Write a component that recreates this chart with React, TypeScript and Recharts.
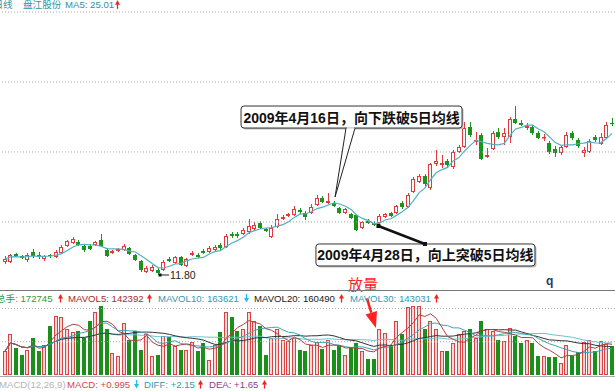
import React from 'react';
import { ComposedChart, Bar, Line, XAxis, YAxis, ReferenceLine, ReferenceDot } from 'recharts';

// ---------- data ----------
const opens = [
  13.00, 13.00, 13.74, 13.55, 13.19, 13.92, 13.65, 13.28, 13.65, 13.46,
  13.83, 14.48, 14.75, 14.85, 14.48, 14.48, 14.57, 15.03, 14.11, 13.83,
  14.02, 14.11, 14.29, 13.65, 13.09, 12.08, 12.17, 12.26, 12.26, 13.28,
  12.91, 13.46, 12.63, 13.65, 13.65, 14.02, 13.92, 14.11, 14.57, 14.39,
  15.59, 15.59, 15.59, 15.77, 16.05, 16.60, 16.05, 15.31, 16.23, 16.97,
  17.25, 17.34, 17.80, 17.52, 17.52, 18.26, 18.91, 18.45, 18.45, 17.99,
  17.52, 17.43, 17.34, 16.14, 16.79, 16.60, 16.60, 17.16, 17.52, 17.52,
  18.45, 18.08, 19.46, 20.39, 20.94, 19.83, 22.05, 21.96, 22.33, 21.77,
  23.16, 23.62, 25.47, 24.08, 24.73, 22.70, 23.43, 25.00, 24.54, 24.54,
  26.21, 25.84, 25.37, 25.47, 24.91, 24.45, 23.99, 23.43, 23.07, 23.62,
  24.91, 24.27, 23.07, 23.16, 24.54, 23.90, 24.45, 25.84,
];
const closes = [
  13.28, 13.65, 13.55, 13.37, 13.65, 13.55, 13.46, 13.55, 13.55, 13.92,
  14.39, 14.94, 15.12, 14.57, 14.11, 14.20, 14.85, 14.48, 13.55, 14.02,
  14.20, 14.48, 13.74, 13.19, 12.26, 12.45, 12.54, 11.98, 13.00, 13.09,
  13.46, 12.72, 13.28, 13.83, 13.46, 13.83, 14.29, 14.39, 14.29, 15.40,
  15.40, 15.40, 15.96, 16.32, 16.42, 16.14, 15.86, 16.14, 16.97, 17.16,
  17.43, 17.89, 17.62, 17.16, 18.08, 18.91, 18.54, 18.63, 18.17, 17.52,
  17.89, 17.06, 15.96, 16.69, 16.60, 16.42, 17.25, 17.43, 17.25, 18.17,
  18.08, 19.19, 20.66, 20.94, 20.20, 22.05, 22.33, 22.14, 21.96, 23.16,
  23.62, 25.37, 24.73, 24.27, 22.51, 22.88, 24.91, 24.54, 24.91, 26.21,
  25.84, 25.65, 25.56, 24.91, 24.45, 24.54, 23.16, 23.07, 23.62, 24.73,
  24.45, 23.71, 23.34, 24.17, 24.27, 24.54, 25.65, 25.74,
];
const highs = [
  13.55, 13.74, 13.83, 13.65, 13.83, 14.20, 13.92, 13.65, 13.74, 14.11,
  14.57, 15.03, 15.31, 15.03, 14.66, 14.66, 14.94, 15.59, 14.29, 14.11,
  14.29, 14.66, 14.39, 13.74, 13.19, 12.63, 12.72, 12.45, 13.19, 13.46,
  13.55, 13.55, 13.37, 14.02, 13.83, 14.20, 14.48, 14.57, 14.75, 15.59,
  15.77, 15.77, 16.14, 16.97, 16.69, 16.79, 16.14, 16.42, 17.43, 17.34,
  17.52, 18.17, 17.99, 17.71, 18.36, 19.19, 19.09, 19.37, 18.63, 18.08,
  17.99, 17.52, 17.43, 16.79, 16.97, 16.79, 17.43, 17.52, 17.62, 18.26,
  18.63, 19.37, 20.85, 21.13, 21.13, 22.14, 23.34, 22.88, 22.51, 23.34,
  23.80, 25.93, 25.93, 25.00, 24.91, 23.53, 25.10, 25.37, 25.37, 26.39,
  27.41, 26.11, 25.84, 25.65, 25.10, 24.82, 24.17, 23.71, 23.80, 25.00,
  25.10, 24.45, 23.62, 24.36, 24.73, 24.91, 25.93, 26.30,
];
const lows = [
  12.82, 12.91, 13.46, 13.28, 13.00, 13.37, 13.28, 13.09, 13.37, 13.37,
  13.74, 14.39, 14.66, 14.48, 13.92, 14.11, 14.48, 14.39, 13.46, 13.74,
  13.92, 14.02, 13.65, 13.09, 12.08, 11.98, 12.08, 11.80, 12.17, 13.00,
  12.82, 12.63, 12.54, 13.55, 13.37, 13.74, 13.83, 14.02, 14.11, 14.29,
  15.22, 15.22, 15.49, 15.59, 15.86, 16.05, 15.77, 15.22, 16.14, 16.88,
  17.16, 17.25, 17.43, 16.88, 17.43, 18.17, 18.45, 18.36, 18.08, 17.43,
  17.43, 16.97, 15.86, 16.05, 16.51, 16.32, 16.51, 17.06, 17.16, 17.43,
  17.89, 17.99, 19.37, 20.30, 20.02, 19.65, 21.87, 21.68, 21.77, 21.59,
  23.07, 23.53, 24.54, 23.80, 22.42, 22.60, 23.34, 24.36, 23.80, 23.99,
  25.74, 25.56, 25.19, 24.73, 24.36, 24.17, 22.97, 22.70, 22.88, 23.53,
  24.27, 23.53, 22.70, 23.07, 24.08, 23.80, 24.36, 25.56,
];
const volumes = [
  142000, 244000, 163000, 122000, 152000, 224000, 146000, 183000, 295000, 356000,
  346000, 274000, 256000, 264000, 224000, 325000, 376000, 417000, 274000, 132000,
  112000, 315000, 213000, 264000, 152000, 244000, 112000, 122000, 234000, 230000,
  173000, 148000, 152000, 197000, 142000, 193000, 92000, 183000, 258000, 376000,
  346000, 264000, 274000, 376000, 325000, 295000, 122000, 224000, 274000, 213000,
  203000, 224000, 148000, 142000, 183000, 197000, 157000, 213000, 148000, 173000,
  122000, 167000, 193000, 142000, 96000, 98000, 274000, 250000, 183000, 325000,
  244000, 407000, 417000, 417000, 274000, 325000, 274000, 142000, 142000, 193000,
  244000, 264000, 274000, 224000, 325000, 279000, 264000, 213000, 203000, 285000,
  234000, 193000, 213000, 193000, 116000, 112000, 108000, 108000, 71000, 183000,
  116000, 136000, 197000, 213000, 142000, 203000, 189000, 172745,
];
const priceGridLevels = [16.70, 23.16, 29.62, 36.08];
const volumeGridLevels = [200000, 400000];
const priceDomain: [number, number] = [10.415, 36.08];
const volumeDomain: [number, number] = [0, 421000];
const breakDownIndex = 58; // 2009年4月16日
const breakUpIndex = 66; // 2009年4月28日

// ---------- derived ----------
const days = closes.map((_, i) => `D${i + 1}`);
function movingAverage(values: number[], n: number) {
  return values.map((_, i) => {
    const s = values.slice(Math.max(0, i - n + 1), i + 1);
    return s.reduce((a, b) => a + b, 0) / s.length;
  });
}
const ma5 = movingAverage(closes, 5);
const mavol5 = movingAverage(volumes, 5);
const mavol10 = movingAverage(volumes, 10);
const mavol20 = movingAverage(volumes, 20);
const mavol30 = movingAverage(volumes, 30);
const lowestValue = Math.min(...lows);
const lowestIndex = lows.indexOf(lowestValue);

const data = days.map((day, i) => ({
  day,
  open: opens[i],
  high: highs[i],
  low: lows[i],
  close: closes[i],
  range: [lows[i], highs[i]],
  vol: volumes[i],
  ma5: ma5[i],
  mavol5: mavol5[i],
  mavol10: mavol10[i],
  mavol20: mavol20[i],
  mavol30: mavol30[i],
}));

// ---------- styles ----------
const RED = '#e3393c';
const GREEN = '#1b941b';
const MA_COLOR = '#52b1c2';
const LATIN = "'Liberation Sans', 'Noto Sans CJK SC', sans-serif";
const CJK = "'Noto Sans CJK SC', sans-serif";

function CandleShape(props: any) {
  const { x, y, width, height, payload } = props;
  if (!payload) return null;
  const top = Math.min(y, y + height);
  const h = Math.abs(height);
  const { open, close, high, low } = payload;
  const span = high - low;
  const toY = (v: number) => (span > 0 ? top + ((high - v) / span) * h : top);
  const n = Math.round(x + width / 2 - 0.5);
  const cx = n + 0.5;
  const yO = toY(open);
  const yC = toY(close);
  const bTop = Math.round(Math.min(yO, yC));
  const bBot = Math.max(bTop + 1, Math.round(Math.max(yO, yC)));
  const yHi = Math.round(top);
  const yLo = Math.round(top + h);
  if (close >= open) {
    return (
      <g>
        <line x1={cx} x2={cx} y1={yHi} y2={bTop} stroke={RED} strokeWidth={1} />
        <line x1={cx} x2={cx} y1={bBot} y2={yLo} stroke={RED} strokeWidth={1} />
        <rect x={n - 1.5} y={bTop + 0.5} width={3} height={Math.max(0.5, bBot - bTop - 1)} fill="#fff" stroke={RED} strokeWidth={1} />
      </g>
    );
  }
  return (
    <g>
      <line x1={cx} x2={cx} y1={yHi} y2={yLo} stroke={GREEN} strokeWidth={1} />
      <rect x={n - 2} y={bTop} width={4} height={bBot - bTop} fill={GREEN} />
    </g>
  );
}

function VolumeShape(props: any) {
  const { x, y, width, height, payload } = props;
  if (!payload) return null;
  const top = Math.round(Math.min(y, y + height));
  const bottom = Math.round(Math.max(y, y + height));
  const n = Math.round(x + width / 2 - 0.5);
  if (payload.close >= payload.open) {
    return <rect x={n - 1.5} y={top + 0.5} width={3} height={Math.max(0.5, bottom - top - 1)} fill="#fad6d6" stroke="#d84444" strokeWidth={1} />;
  }
  return <rect x={n - 2} y={top} width={4} height={bottom - top} fill="#1a901a" />;
}

function LowLabel(props: any) {
  const { cx, cy } = props;
  return (
    <g>
      <rect x={cx + 0.5} y={cy - 1.5} width={3} height={3} fill="#111" />
      <line x1={cx + 3} y1={cy} x2={cx + 11} y2={cy} stroke="#222" strokeWidth={1} />
      <text x={cx + 12} y={cy + 3.8} fontSize={10.5} fill="#222" fontFamily={LATIN}>{lowestValue.toFixed(2)}</text>
    </g>
  );
}

function CalloutDown(props: any) {
  const { cx, cy } = props;
  const bx = cx - 93;
  const by = cy - 95;
  const bw = 221;
  const bh = 22;
  return (
    <g>
      <rect x={bx + 1.5} y={by + 1.5} width={bw} height={bh} rx={3} fill="#bbb" />
      <rect x={bx} y={by} width={bw} height={bh} rx={3} fill="#fff" stroke="#333" strokeWidth={1} />
      <polygon points={`${cx + 12},${by + bh} ${cx + 1},${cy - 4} ${cx + 21},${by + bh}`} fill="#fff" stroke="#222" strokeWidth={1} />
      <line x1={cx + 12.6} y1={by + bh} x2={cx + 20.4} y2={by + bh} stroke="#fff" strokeWidth={1.5} />
      <text x={bx + bw / 2} y={by + 16.5} textAnchor="middle" fontSize={14} fontWeight="bold" fill="#111" fontFamily={LATIN}>
        2009年4月16日，向下跌破5日均线
      </text>
    </g>
  );
}

function CalloutUp(props: any) {
  const { cx, cy } = props;
  const bx = cx - 63.5;
  const by = cy + 20;
  const bw = 219;
  const bh = 22;
  return (
    <g>
      <rect x={bx + 1.5} y={by + 1.5} width={bw} height={bh} rx={3} fill="#bbb" />
      <rect x={bx} y={by} width={bw} height={bh} rx={3} fill="#fff" stroke="#333" strokeWidth={1} />
      <line x1={cx - 1} y1={cy + 2} x2={cx + 45.5} y2={by} stroke="#111" strokeWidth={2.5} />
      <rect x={cx - 3} y={cy} width={4} height={4} fill="#111" />
      <rect x={cx + 43.5} y={by - 2} width={4} height={4} fill="#111" />
      <text x={bx + bw / 2} y={by + 16.5} textAnchor="middle" fontSize={14} fontWeight="bold" fill="#111" fontFamily={LATIN}>
        2009年4月28日，向上突破5日均线
      </text>
    </g>
  );
}

function SurgeArrow(props: any) {
  const { cx, cy } = props;
  const tipX = cx - 3.5;
  const tipY = cy - 1.5;
  const tailX = cx - 12.5;
  const tailY = cy - 31;
  const dx = tailX - tipX;
  const dy = tailY - tipY;
  const len = Math.sqrt(dx * dx + dy * dy);
  const ux = dx / len;
  const uy = dy / len;
  const px = -uy;
  const py = ux;
  const bcx = tipX + ux * 16;
  const bcy = tipY + uy * 16;
  return (
    <g>
      <line x1={bcx} y1={bcy} x2={tailX} y2={tailY} stroke="#f22" strokeWidth={2.5} />
      <polygon points={`${tipX},${tipY} ${bcx + px * 6},${bcy + py * 6} ${bcx - px * 6},${bcy - py * 6}`} fill="#f22" />
      <text x={cx - 16.5} y={cy - 39.5} textAnchor="middle" fontSize={15} fill="#ff2020" fontFamily={CJK}>放量</text>
    </g>
  );
}

type Run = { x: number; t: string; c: string; arrow?: 'up' | 'down' };
const UP_RED = '#ee2222';
const DOWN_CYAN = '#20bde8';
const topRuns: Run[] = [
  { x: -6.5, t: '日线', c: '#2a93a6' },
  { x: 23, t: '盘江股份', c: '#2a93a6' },
  { x: 65, t: 'MA5: 25.01', c: '#2a93a6' },
  { x: 115, t: '', c: UP_RED, arrow: 'up' },
];
const volRuns: Run[] = [
  { x: -4, t: '总手: 172745', c: '#2f9a40' },
  { x: 58, t: '', c: UP_RED, arrow: 'up' },
  { x: 68, t: 'MAVOL5: 142392', c: '#a52a2a' },
  { x: 147, t: '', c: UP_RED, arrow: 'up' },
  { x: 158, t: 'MAVOL10: 163621', c: '#2d9db3' },
  { x: 244, t: '', c: DOWN_CYAN, arrow: 'down' },
  { x: 254, t: 'MAVOL20: 160490', c: '#202020' },
  { x: 339, t: '', c: UP_RED, arrow: 'up' },
  { x: 350, t: 'MAVOL30: 143031', c: '#2d9db3' },
  { x: 434, t: '', c: UP_RED, arrow: 'up' },
];
const macdRuns: Run[] = [
  { x: -1, t: 'MACD(12,26,9)', c: '#b4b4b4' },
  { x: 67, t: 'MACD: +0.995', c: '#d64545' },
  { x: 134, t: '', c: DOWN_CYAN, arrow: 'down' },
  { x: 144, t: 'DIFF: +2.15', c: '#2d9db3' },
  { x: 198, t: '', c: UP_RED, arrow: 'up' },
  { x: 209, t: 'DEA: +1.65', c: '#8b3a96' },
  { x: 262, t: '', c: UP_RED, arrow: 'up' },
];

function ArrowGlyph({ x, y, dir, color }: { x: number; y: number; dir: 'up' | 'down'; color: string }) {
  const mx = x + 2.5;
  if (dir === 'up') {
    return (
      <g>
        <line x1={mx} x2={mx} y1={y - 4} y2={y + 0.5} stroke={color} strokeWidth={1.3} />
        <polygon points={`${x},${y - 3.5} ${x + 5},${y - 3.5} ${mx},${y - 8}`} fill={color} />
      </g>
    );
  }
  return (
    <g>
      <line x1={mx} x2={mx} y1={y - 8} y2={y - 3} stroke={color} strokeWidth={1.3} />
      <polygon points={`${x},${y - 4} ${x + 5},${y - 4} ${mx},${y + 0.5}`} fill={color} />
    </g>
  );
}

function Runs({ runs, y }: { runs: Run[]; y: number }) {
  return (
    <g>
      {runs.map((r, i) =>
        r.arrow ? (
          <ArrowGlyph key={i} x={r.x} y={y} dir={r.arrow} color={r.c} />
        ) : (
          <text key={i} x={r.x} y={y} fontSize={9.6} fill={r.c} fontFamily={LATIN}>{r.t}</text>
        )
      )}
    </g>
  );
}

export default function App() {
  return (
    <div style={{ position: 'absolute', left: 0, top: 0, width: 615, height: 391, background: '#fff', overflow: 'hidden' }}>
      <div style={{ position: 'absolute', left: 0, top: 0 }}>
        <ComposedChart width={615} height={290} data={data} margin={{ top: 12, right: 0, bottom: 0, left: 2 }}>
          <XAxis dataKey="day" type="category" hide />
          <YAxis domain={priceDomain} allowDataOverflow hide />
          {priceGridLevels.map((v) => (
            <ReferenceLine key={v} y={v} stroke="#a8a8a8" strokeDasharray="1 2" ifOverflow="extendDomain" />
          ))}
          <Bar dataKey="range" shape={<CandleShape />} isAnimationActive={false} />
          <Line dataKey="ma5" type="linear" stroke={MA_COLOR} strokeWidth={1.2} dot={false} activeDot={false} isAnimationActive={false} />
          <ReferenceDot x={days[lowestIndex]} y={lowestValue} r={0} shape={<LowLabel />} />
          <ReferenceDot x={days[breakDownIndex]} y={highs[breakDownIndex]} r={0} shape={<CalloutDown />} />
          <ReferenceDot x={days[breakUpIndex]} y={lows[breakUpIndex]} r={0} shape={<CalloutUp />} />
        </ComposedChart>
      </div>
      <div style={{ position: 'absolute', left: 0, top: 270 }}>
        <ComposedChart width={615} height={106} data={data} margin={{ top: 35, right: 0, bottom: 1, left: 2 }}>
          <XAxis dataKey="day" type="category" hide />
          <YAxis domain={volumeDomain} allowDataOverflow hide />
          {volumeGridLevels.map((v) => (
            <ReferenceLine key={v} y={v} stroke="#a8a8a8" strokeDasharray="1 2" />
          ))}
          <Bar dataKey="vol" shape={<VolumeShape />} isAnimationActive={false} />
          <Line dataKey="mavol30" type="linear" stroke="#6cc0d0" strokeWidth={1} dot={false} activeDot={false} isAnimationActive={false} />
          <Line dataKey="mavol20" type="linear" stroke="#333333" strokeWidth={1} dot={false} activeDot={false} isAnimationActive={false} />
          <Line dataKey="mavol10" type="linear" stroke="#3aa3b5" strokeWidth={1} dot={false} activeDot={false} isAnimationActive={false} />
          <Line dataKey="mavol5" type="linear" stroke="#b04040" strokeWidth={1} dot={false} activeDot={false} isAnimationActive={false} />
          <ReferenceDot x={days[breakUpIndex]} y={volumes[breakUpIndex]} r={0} shape={<SurgeArrow />} />
        </ComposedChart>
      </div>
      <svg width={615} height={391} style={{ position: 'absolute', left: 0, top: 0, pointerEvents: 'none' }}>
        <line x1={0} x2={615} y1={290.5} y2={290.5} stroke="#777" strokeWidth={1} />
        <line x1={0} x2={615} y1={376.5} y2={376.5} stroke="#aaa" strokeWidth={1} />
        <Runs runs={topRuns} y={8.3} />
        <Runs runs={volRuns} y={302} />
        <Runs runs={macdRuns} y={388} />
        <text x={546} y={285} fontSize={12} fontWeight="bold" fill="#1d3d6e" fontFamily={LATIN}>q</text>
      </svg>
    </div>
  );
}
